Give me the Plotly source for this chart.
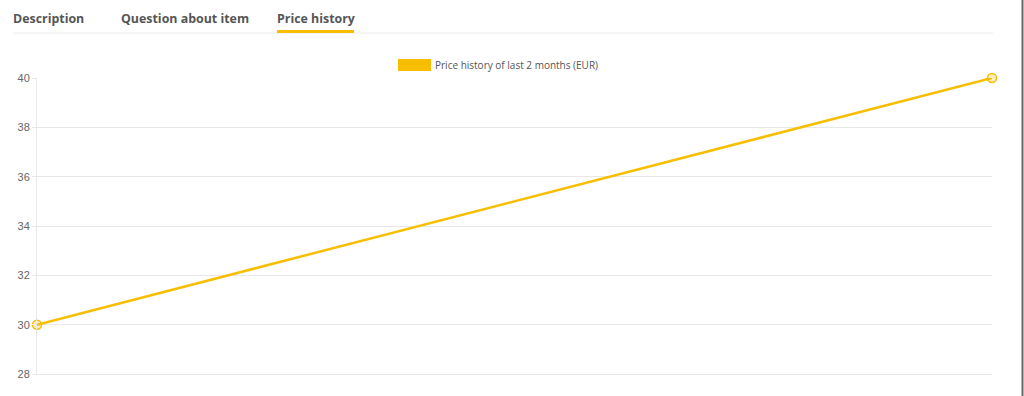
import plotly.graph_objects as go

dates = ["start", "end"]
prices = [30, 40]
y_ticks = [28, 30, 32, 34, 36, 38, 40]
legend_label = "Price history of last 2 months (EUR)"
tabs = ["Description", "Question about item", "Price history"]

W, H = 1024, 396
L, R, T, B = 37, 32, 78, 22
pw, ph = W - L - R, H - T - B

def px(x):
    return (x - L) / pw

def py(y):
    return (H - B - y) / ph

YEL = "#f7be00"

fig = go.Figure()
fig.add_trace(go.Scatter(
    x=dates, y=prices, mode="lines+markers",
    line=dict(color=YEL, width=2.5),
    marker=dict(size=9, color="rgba(247,190,0,0.25)", line=dict(color=YEL, width=1.5)),
    showlegend=False, cliponaxis=False,
))

shapes = [
    # top separator line
    dict(type="line", xref="paper", yref="paper", x0=px(13), x1=px(993), y0=py(33), y1=py(33),
         line=dict(color="#ececec", width=1)),
    # active tab underline
    dict(type="rect", xref="paper", yref="paper", x0=px(277), x1=px(354), y0=py(33), y1=py(30),
         fillcolor=YEL, line=dict(width=0)),
    # legend box
    dict(type="rect", xref="paper", yref="paper", x0=px(398), x1=px(431), y0=py(71), y1=py(59),
         fillcolor=YEL, line=dict(width=0)),
    # right border
    dict(type="line", xref="paper", yref="paper", x0=px(1022.5), x1=px(1022.5), y0=py(0), y1=py(396),
         line=dict(color="#666666", width=2)),
]

annotations = [
    dict(text=legend_label, xref="paper", yref="paper", x=px(433), y=py(65), xanchor="left",
         yanchor="middle", showarrow=False,
         font=dict(family="Open Sans", size=10, color="#555555")),
]
tab_x = [11, 119, 275]
for t, x in zip(tabs, tab_x):
    annotations.append(dict(text="<b>" + t + "</b>", xref="paper", yref="paper", x=px(x), y=py(18),
                            xanchor="left", yanchor="middle", showarrow=False,
                            font=dict(family="Open Sans", size=12.4, color="#555555")))

fig.update_layout(
    width=W, height=H, margin=dict(l=L, r=R, t=T, b=B),
    paper_bgcolor="white", plot_bgcolor="white",
    shapes=shapes, annotations=annotations,
    xaxis=dict(type="category", range=[0, 1], showticklabels=False, showgrid=False, zeroline=False,
               showline=True, linecolor="#e8e8e8", linewidth=1, ticks=""),
    yaxis=dict(range=[28, 40], tickvals=y_ticks, showgrid=True, gridcolor="#e8e8e8",
               zeroline=False, showline=True, linecolor="#e8e8e8", linewidth=1,
               ticks="outside", ticklen=4, tickcolor="#e8e8e8",
               tickfont=dict(family="Liberation Sans", size=11, color="#666666")),
)
fig.write_html("out.html")
